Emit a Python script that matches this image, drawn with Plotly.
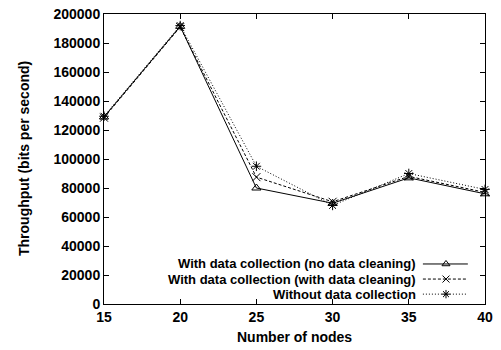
import plotly.graph_objects as go

nodes = [15, 20, 25, 30, 35, 40]
no_cleaning = [129000, 191500, 80000, 69500, 87000, 76000]
with_cleaning = [128500, 191000, 87500, 70500, 88000, 77000]
without_collection = [129500, 192000, 95000, 68000, 90000, 79000]
names = ["With data collection (no data cleaning)",
         "With data collection (with data cleaning)",
         "Without data collection"]
series = [no_cleaning, with_cleaning, without_collection]
dashes = ["solid", "3px,2px", "1px,2px"]
symbols = ["triangle-up-open", "x-thin-open", "asterisk-open"]
x_ticks = [15, 20, 25, 30, 35, 40]
y_ticks = [0, 20000, 40000, 60000, 80000, 100000, 120000, 140000, 160000, 180000, 200000]

FONT = "Liberation Sans, Arial, sans-serif"
FS = 14
LFS = 13
fig = go.Figure()
for vals, nm, d, s in zip(series, names, dashes, symbols):
    fig.add_trace(go.Scatter(
        x=nodes, y=vals, name=nm, mode="lines+markers",
        line=dict(color="black", width=1, dash=d),
        marker=dict(symbol=s, size=8, color="black", line=dict(color="black", width=1)),
        showlegend=False, cliponaxis=False))

# manual legend (sample drawn to the right of the text, as in the reference)
leg_y = [0.138, 0.086, 0.034]
for nm, d, s, yy in zip(names, dashes, symbols, leg_y):
    fig.add_annotation(text="<b>" + nm + "</b>", xref="paper", yref="paper",
                       x=0.8215, y=yy, xanchor="right", yanchor="middle", borderpad=0,
                       showarrow=False, font=dict(family=FONT, size=LFS, color="black"))
    fig.add_trace(go.Scatter(
        x=[0.837, 0.8976, 0.955], y=[yy, yy, yy], xaxis="x2", yaxis="y2",
        mode="lines", line=dict(color="black", width=1, dash=d),
        showlegend=False, hoverinfo="skip"))
    fig.add_trace(go.Scatter(
        x=[0.8976], y=[yy], xaxis="x2", yaxis="y2", mode="markers",
        marker=dict(symbol=s, size=7, color="black", line=dict(color="black", width=1)),
        showlegend=False, hoverinfo="skip"))

# axis titles
fig.add_annotation(text="<b>Number of nodes</b>", xref="paper", yref="paper",
                   x=0.5, y=0, xanchor="center", yanchor="middle", yshift=-33,
                   showarrow=False, font=dict(family=FONT, size=FS, color="black"))
fig.add_annotation(text="<b>Throughput (bits per second)</b>", xref="paper", yref="paper",
                   x=0, y=0.5, xanchor="center", yanchor="middle", xshift=-80, textangle=-90,
                   showarrow=False, font=dict(family=FONT, size=FS, color="black"))

axis_common = dict(showgrid=False, zeroline=False, showline=True, linecolor="black",
                   linewidth=1, mirror="ticks", ticks="inside", ticklen=5, automargin=False,
                   tickcolor="black", tickfont=dict(family=FONT, size=FS, color="black"))
fig.update_layout(
    width=501, height=350,
    margin=dict(l=104, r=16, t=14, b=46, autoexpand=False),
    plot_bgcolor="white", paper_bgcolor="white",
    showlegend=False,
    font=dict(family=FONT, size=FS, color="black"),
    xaxis=dict(range=[15, 40], tickvals=x_ticks, ticktext=["<b>%d</b>" % v for v in x_ticks],
               **axis_common),
    yaxis=dict(range=[0, 200000], tickvals=y_ticks, ticktext=["<b>%d</b>" % v for v in y_ticks],
               **axis_common),
    xaxis2=dict(range=[0, 1], overlaying="x", visible=False, fixedrange=True, automargin=False),
    yaxis2=dict(range=[0, 1], overlaying="y", visible=False, fixedrange=True, automargin=False),
)
fig.write_html("out.html", config={"displayModeBar": False},
               post_script="document.body.style.margin='0';document.body.style.overflow='hidden';")
